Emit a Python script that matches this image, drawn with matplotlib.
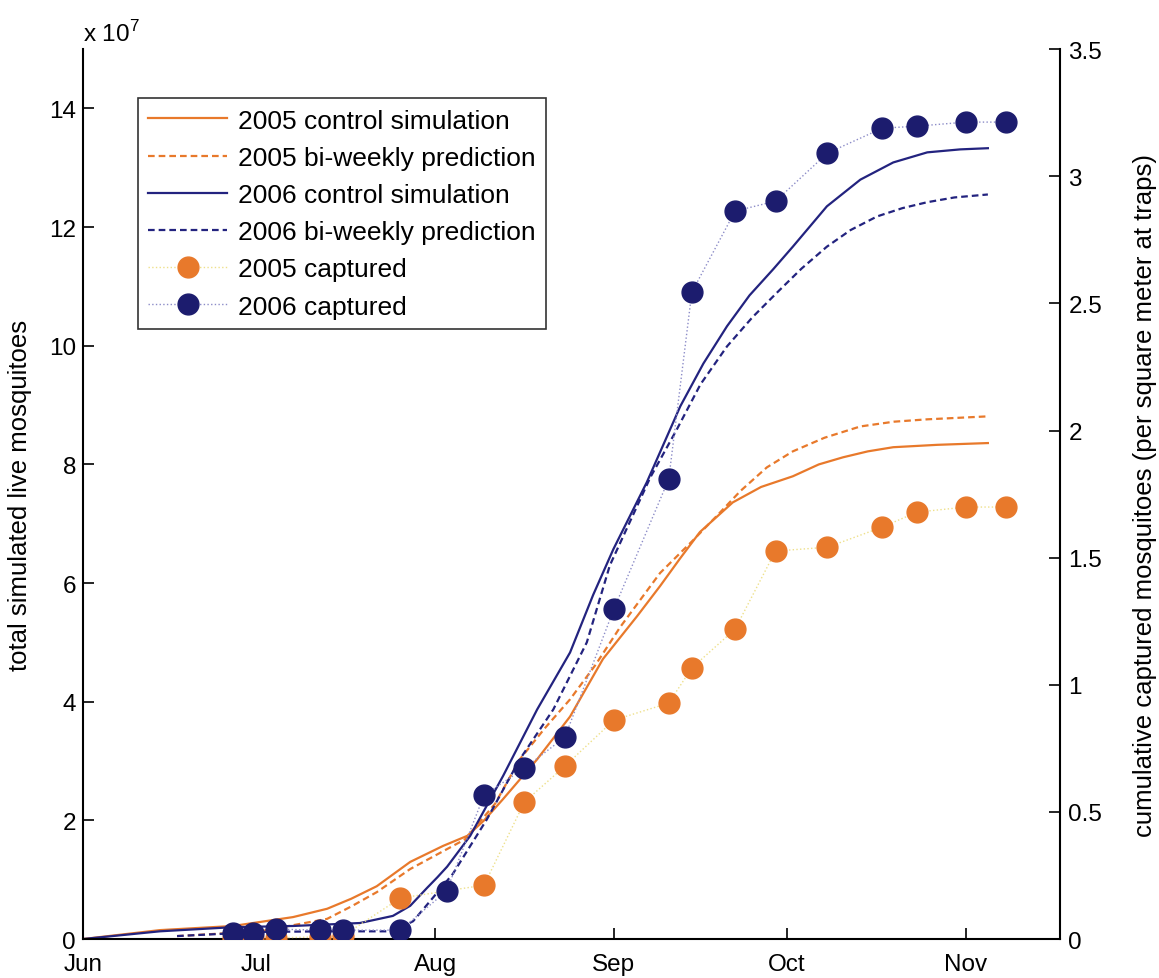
import matplotlib
matplotlib.use("Agg")
import matplotlib.pyplot as plt
import numpy as np

plt.rcParams['font.family'] = ['Liberation Sans', 'DejaVu Sans']
plt.rcParams['mathtext.fontset'] = 'custom'
plt.rcParams['mathtext.rm'] = 'Liberation Sans'

# x values are days after 1 June
month_days = [0, 30, 61, 92, 122, 153]
month_names = ["Jun", "Jul", "Aug", "Sep", "Oct", "Nov"]

# 2006 control simulation (x 1e7)
ctl06_x = [0, 13.3, 26, 36.4, 48, 53.7, 56.7, 59.6, 61.4, 63.1, 67.1, 72.8, 78.7, 84.4,
           88.4, 91.9, 97.7, 103.5, 107.5, 111.6, 115.5, 119.6, 123, 128.9, 134.7,
           140.4, 146.3, 152, 156.8]
ctl06_y = [0, 0.13, 0.20, 0.22, 0.27, 0.39, 0.56, 0.86, 1.04, 1.22, 1.74, 2.75, 3.87,
           4.83, 5.80, 6.57, 7.70, 8.98, 9.70, 10.33, 10.85, 11.29, 11.67, 12.35, 12.80,
           13.09, 13.26, 13.31, 13.33]

# 2006 bi-weekly prediction
bw06_x = [16.3, 30.7, 42.8, 53.7, 57.2, 60.5, 64.1, 70, 75.7, 81.5, 87.3, 91.3, 98.3,
          102.9, 107, 111.6, 116, 120.3, 124.5, 128.9, 133, 137.6, 142, 146.3, 151,
          156.8]
bw06_y = [0.05, 0.12, 0.13, 0.13, 0.30, 0.68, 1.10, 2.02, 3.03, 3.87, 5.00, 6.30, 7.78,
          8.59, 9.35, 9.99, 10.48, 10.90, 11.30, 11.67, 11.95, 12.18, 12.32, 12.42,
          12.50, 12.55]

# 2005 control simulation
ctl05_x = [0, 13.3, 26, 36.4, 42.3, 46.5, 50.9, 56.7, 62.4, 66.6, 69.5, 72.8, 78.7,
           84.4, 90.1, 96, 100, 103.5, 106.9, 112.6, 117.5, 123, 127.5, 131.7, 136,
           140.4, 148, 156.8]
ctl05_y = [0, 0.15, 0.22, 0.37, 0.51, 0.68, 0.89, 1.30, 1.57, 1.74, 2.00, 2.36, 3.03,
           3.75, 4.72, 5.44, 5.95, 6.42, 6.86, 7.36, 7.62, 7.80, 8.00, 8.12, 8.22,
           8.29, 8.33, 8.36]

# 2005 bi-weekly prediction
bw05_x = [16.3, 30.7, 42.3, 46.5, 50.9, 56.7, 66.2, 71.4, 75.7, 80, 84.4, 88.8, 93.1,
          100, 105.7, 110, 113.9, 118.5, 123, 128.5, 134.7, 140.5, 146.3, 156.8]
bw05_y = [0.05, 0.13, 0.34, 0.55, 0.79, 1.18, 1.68, 2.28, 3.03, 3.55, 4.04, 4.62, 5.26,
          6.17, 6.72, 7.15, 7.55, 7.95, 8.22, 8.45, 8.64, 8.72, 8.76, 8.81]

# captured mosquitoes (right axis)
cap06_x = [26, 29.5, 33.5, 41, 45, 55, 63, 69.5, 76.5, 83.5, 92, 101.5, 105.5,
           113, 120, 129, 138.5, 144.5, 153, 160]
cap06_y = [0.024, 0.024, 0.039, 0.035, 0.035, 0.035, 0.189, 0.566, 0.672, 0.794,
           1.298, 1.809, 2.544, 2.863, 2.902, 3.091, 3.189, 3.197, 3.213, 3.213]

cap05_x = [26, 29.5, 33.5, 41, 45, 55, 69.5, 76.5, 83.5, 92, 101.5, 105.5,
           113, 120, 129, 138.5, 144.5, 153, 160]
cap05_y = [0.005, 0.005, 0.005, 0.008, 0.012, 0.161, 0.212, 0.539, 0.680, 0.861,
           0.928, 1.066, 1.219, 1.526, 1.541, 1.620, 1.679, 1.699, 1.699]

orange = "#E8792B"
navy = "#23237F"
dot_navy = "#1C1C6E"

fig = plt.figure(figsize=(11.59, 9.79), dpi=100)
ax = fig.add_axes([0.0716, 0.0398, 0.843, 0.909])
ax2 = ax.twinx()

dash = (0, (3, 1.8))
l1, = ax.plot(ctl05_x, ctl05_y, color=orange, lw=1.6, label="2005 control simulation")
l2, = ax.plot(bw05_x, bw05_y, color=orange, lw=1.6, ls=dash,
              label="2005 bi-weekly prediction")
l3, = ax.plot(ctl06_x, ctl06_y, color=navy, lw=1.6, label="2006 control simulation")
l4, = ax.plot(bw06_x, bw06_y, color=navy, lw=1.6, ls=dash,
              label="2006 bi-weekly prediction")

l5, = ax2.plot(cap05_x, cap05_y, color="#EEE08A", lw=1.0, ls=":", marker="o",
               markersize=15, markerfacecolor=orange, markeredgecolor=orange,
               label="2005 captured")
l6, = ax2.plot(cap06_x, cap06_y, color="#8C8CC8", lw=1.0, ls=":", marker="o",
               markersize=15, markerfacecolor=dot_navy, markeredgecolor=dot_navy,
               label="2006 captured")

ax.set_xlim(0, 169.3)
ax.set_ylim(0, 15)
ax2.set_ylim(0, 3.5)

ax.set_xticks(month_days)
ax.set_xticklabels(month_names)
ax.set_yticks(range(0, 15, 2))
ax2.set_yticks([0, 0.5, 1, 1.5, 2, 2.5, 3, 3.5])
ax2.set_yticklabels(["0", "0.5", "1", "1.5", "2", "2.5", "3", "3.5"])

for a in (ax, ax2):
    a.spines['top'].set_visible(False)
    a.tick_params(direction='in', length=8, width=1.2, labelsize=17.5)
    for s in a.spines.values():
        s.set_linewidth(1.5)
ax.spines['right'].set_visible(False)
ax2.spines['left'].set_visible(False)
ax2.spines['bottom'].set_visible(False)
ax.tick_params(axis='x', pad=10)
ax.tick_params(axis='y', pad=5)
ax2.tick_params(axis='y', pad=6)

ax.set_ylabel("total simulated live mosquitoes", fontsize=18.5, labelpad=12)
ax2.set_ylabel("cumulative captured mosquitoes (per square meter at traps)",
               fontsize=18.5, labelpad=22)

ax.text(0.0, 1.004, r"x 10$^{7}$", transform=ax.transAxes, fontsize=17.5,
        ha='left', va='bottom')

leg = ax2.legend(handles=[l1, l2, l3, l4, l5, l6], loc='upper left',
                 bbox_to_anchor=(0.056, 0.945), fontsize=19, frameon=True,
                 fancybox=False, edgecolor='black', handlelength=3.0,
                 handletextpad=0.4, labelspacing=0.5, borderpad=0.4,
                 numpoints=1, borderaxespad=0)
leg.get_frame().set_linewidth(1.2)

fig.savefig("out.png", dpi=100)
